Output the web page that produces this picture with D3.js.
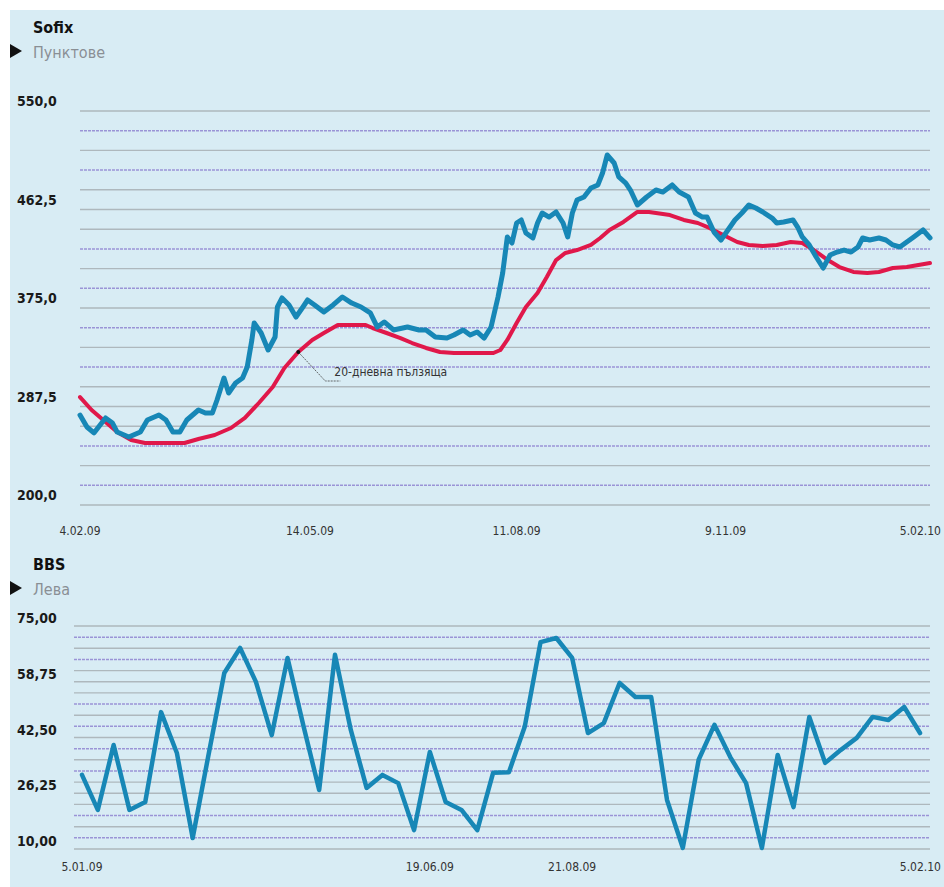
<!DOCTYPE html>
<html><head><meta charset="utf-8">
<script src="https://cdn.jsdelivr.net/npm/d3@7/dist/d3.min.js"></script>
<style>
body{margin:0;background:#fff}
text{font-family:'Liberation Sans Narrow','DejaVu Sans Condensed','Roboto Condensed','Liberation Sans',sans-serif;font-stretch:condensed}
</style>
</head><body>
<svg id="c" width="944" height="887"></svg>
<script>
// ---------- Sofix (points), days counted from 4.02.09 ----------
const sofixDays = [0,3,6,11,14,16,21,26,29,34,37,40,43,46,51,54,57,59,62,64,67,70,72,74,75,78,81,84,85,87,90,93,96,98,101,105,109,113,117,121,125,128,131,135,141,146,149,153,158,161,165,168,171,174,177,180,182,184,186,188,190,192,195,197,199,202,205,208,210,212,214,217,220,223,225,227,230,232,235,237,240,244,248,251,255,258,262,265,268,270,273,276,279,282,285,288,291,294,298,300,303,307,309,311,314,317,320,323,326,329,332,335,337,340,344,347,350,353,356,359,363,366];
const sofixValues = [279.9,269.3,264.0,277.3,272.8,264.8,260.4,264.8,275.5,279.9,275.5,264.8,264.8,275.5,284.4,281.7,281.7,293.3,312.8,299.5,308.4,312.8,322.6,346.6,361.7,352.8,337.7,349.2,375.9,383.9,377.7,367.0,375.9,382.1,377.7,371.4,377.7,384.8,379.4,375.9,370.6,358.1,362.6,355.5,358.1,355.5,355.5,349.2,348.3,351.0,355.5,351.0,353.7,348.3,358.1,384.8,406.1,438.1,432.7,450.5,453.2,441.6,437.2,450.5,459.4,455.8,460.3,450.5,438.1,459.4,470.9,473.6,481.6,484.3,494.9,510.9,503.8,491.4,486.0,479.8,466.5,473.6,479.8,478.0,484.3,478.0,473.6,459.4,455.8,455.8,442.5,435.4,444.3,453.2,459.4,466.5,463.8,460.3,454.9,450.5,451.4,453.2,446.9,438.1,431.0,420.3,410.5,422.1,424.7,426.5,424.7,429.2,437.2,435.4,437.2,435.4,431.0,429.2,433.6,438.1,444.3,437.2];
// ---------- 20-day moving average ----------
const maDays = [0,5,11,16,22,28,34,40,45,51,58,65,71,77,83,88,94,100,105,111,117,123,126,132,138,143,149,155,161,167,172,178,181,184,188,192,197,201,205,209,214,220,224,228,234,240,245,254,260,266,271,277,283,288,294,300,306,311,316,322,327,333,339,344,350,356,366];
const maValues = [295.9,284.4,273.7,264.8,257.7,255.1,255.1,255.1,255.1,258.6,262.2,268.4,277.3,290.6,304.8,321.7,335.9,346.6,352.8,359.9,359.9,359.9,357.2,352.8,348.3,343.9,339.5,335.9,335.0,335.0,335.0,335.0,337.7,346.6,361.7,375.9,388.3,402.5,417.6,423.9,426.5,431.0,437.2,444.3,451.4,460.3,460.3,457.6,453.2,450.5,446.1,439.8,433.6,431.0,430.1,431.0,433.6,432.7,426.5,417.6,411.4,407.0,406.1,407.0,410.5,411.4,415.0];
const sofixStart = "2009-02-04";
const sofixEnd = "2010-02-05";
const sofixTickDates = ["2009-02-04","2009-05-14","2009-08-11","2009-11-09","2010-02-05"];
const sofixTickLabels = ["4.02.09","14.05.09","11.08.09","9.11.09","5.02.10"];
const sofixYTicks = [200,287.5,375,462.5,550];
const sofixYLabels = ["200,0","287,5","375,0","462,5","550,0"];
const maAnnotationDay = 94;
const maAnnotationText = "20-дневна пълзяща";

// ---------- BBS (leva), weekly ----------
const bbsValues = [31.6,21.4,40.3,21.4,23.7,49.9,38.0,13.2,37.4,61.3,68.6,58.7,43.2,65.7,46.0,27.2,66.6,44.7,27.8,31.6,29.2,15.5,38.3,23.7,21.4,15.5,32.2,32.4,45.6,70.3,71.5,65.7,43.8,46.7,58.4,54.3,54.3,24.3,10.3,36.0,46.2,36.8,29.2,10.3,37.4,22.2,48.5,35.1,38.9,42.4,48.5,47.6,51.4,43.8];
const bbsTickIndex = [0,22,31,53];
const bbsTickLabels = ["5.01.09","19.06.09","21.08.09","5.02.10"];
const bbsYTicks = [10,26.25,42.5,58.75,75];
const bbsYLabels = ["10,00","26,25","42,50","58,75","75,00"];

const BLUE = "#1787b6", RED = "#e0184a";
const svg = d3.select("#c");
svg.append("rect").attr("x",10).attr("y",10).attr("width",934).attr("height",877).attr("fill","#d8ecf4");

const parse = d3.utcParse("%Y-%m-%d");
const t0 = parse(sofixStart);

function grid(g, y, lo, step, x0, x1, majors){
  for(let i=0;i<=20;i++){
    const v = lo + i*step;
    const major = majors.some(m => Math.abs(m-v)<1e-6);
    const gray = major || i%2===0;
    g.append("line").attr("x1",x0).attr("x2",x1).attr("y1",y(v)).attr("y2",y(v))
      .attr("stroke", gray ? "#aeb8bd" : "#9a94d6")
      .attr("stroke-width", gray ? 1.4 : 1.5)
      .attr("stroke-dasharray", gray ? null : "3,1");
  }
}
function header(y0, title, unit){
  svg.append("text").attr("x",33).attr("y",y0).text(title)
    .attr("font-size",16).attr("font-weight","bold").attr("fill","#111");
  svg.append("path").attr("d",`M10,${y0+11} L22,${y0+18} L10,${y0+25} Z`).attr("fill","#111");
  svg.append("text").attr("x",33).attr("y",y0+25).text(unit)
    .attr("font-size",16).attr("fill","#8a8f94");
}

// ================= TOP: Sofix =================
const x = d3.scaleUtc().domain([parse(sofixStart), parse(sofixEnd)]).range([80,930]);
const y = d3.scaleLinear().domain([200,550]).range([505,111]);
const gTop = svg.append("g");
grid(gTop, y, 200, 17.5, 80, 930, sofixYTicks);
header(33, "Sofix", "Пунктове");
sofixYTicks.forEach((v,i)=>{
  svg.append("text").attr("x",17).attr("y",y(v)-5).text(sofixYLabels[i])
    .attr("font-size",14).attr("font-weight","bold").attr("fill","#1a1a1a");
});
sofixTickDates.forEach((d,i)=>{
  const last = i===sofixTickDates.length-1;
  svg.append("text").attr("x", last ? 941 : x(parse(d))).attr("y",535)
    .attr("text-anchor", last ? "end" : "middle").text(sofixTickLabels[i])
    .attr("font-size",12).attr("fill","#333");
});
const sofixData = sofixDays.map((d,i)=>({date:d3.utcDay.offset(t0,d), v:sofixValues[i]}));
const maData = maDays.map((d,i)=>({date:d3.utcDay.offset(t0,d), v:maValues[i]}));
const lineT = d3.line().x(d=>x(d.date)).y(d=>y(d.v));
gTop.append("path").datum(maData).attr("d",lineT).attr("fill","none")
  .attr("stroke",RED).attr("stroke-width",4).attr("stroke-linejoin","round").attr("stroke-linecap","round");
gTop.append("path").datum(sofixData).attr("d",lineT).attr("fill","none")
  .attr("stroke",BLUE).attr("stroke-width",5).attr("stroke-linejoin","round").attr("stroke-linecap","round");
// annotation
const ai = maDays.indexOf(maAnnotationDay);
const ax = x(d3.utcDay.offset(t0, maAnnotationDay)), ay = y(maValues[ai]);
gTop.append("path").attr("d",`M${ax},${ay} L${ax+27},${ay+29} L${ax+42},${ay+29}`)
  .attr("fill","none").attr("stroke","#444").attr("stroke-width",0.8).attr("stroke-dasharray","2,1");
gTop.append("circle").attr("cx",ax).attr("cy",ay).attr("r",2).attr("fill","#111");
gTop.append("text").attr("x",ax+36).attr("y",ay+24).text(maAnnotationText)
  .attr("font-size",12).attr("fill","#333");

// ================= BOTTOM: BBS =================
const xb = d3.scaleLinear().domain([0,bbsValues.length-1]).range([82,920]);
const yb = d3.scaleLinear().domain([10,75]).range([849,626]);
const gBot = svg.append("g");
grid(gBot, yb, 10, 3.25, 74, 930, bbsYTicks);
header(570, "BBS", "Лева");
bbsYTicks.forEach((v,i)=>{
  svg.append("text").attr("x",17).attr("y",yb(v)-3).text(bbsYLabels[i])
    .attr("font-size",14).attr("font-weight","bold").attr("fill","#1a1a1a");
});
bbsTickIndex.forEach((k,i)=>{
  const last = i===bbsTickIndex.length-1;
  svg.append("text").attr("x", last ? 941 : xb(k)).attr("y",871)
    .attr("text-anchor", last ? "end" : "middle").text(bbsTickLabels[i])
    .attr("font-size",12).attr("fill","#333");
});
const lineB = d3.line().x((d,i)=>xb(i)).y(d=>yb(d));
gBot.append("path").datum(bbsValues).attr("d",lineB).attr("fill","none")
  .attr("stroke",BLUE).attr("stroke-width",4.5).attr("stroke-linejoin","round").attr("stroke-linecap","round");
</script>
</body></html>
